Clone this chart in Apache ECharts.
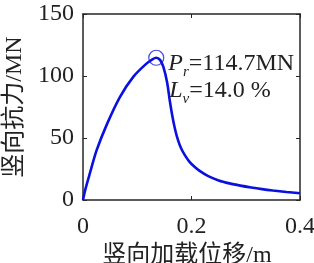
<!DOCTYPE html>
<html>
<head>
<meta charset="utf-8">
<script src="https://cdn.jsdelivr.net/npm/echarts@6/dist/echarts.min.js"></script>
<style>html,body{margin:0;padding:0;background:#fff}#c{width:314px;height:263px}</style>
</head>
<body>
<div id="c"></div>
<script>
const dispX = [0, 0.004, 0.013, 0.025, 0.044, 0.068, 0.093, 0.117, 0.128, 0.135, 0.142, 0.148, 0.155, 0.160, 0.165, 0.170, 0.175, 0.181, 0.188, 0.196, 0.205, 0.215, 0.230, 0.250, 0.270, 0.290, 0.310, 0.330, 0.350, 0.375, 0.400];
const forceY = [0, 8, 22, 40, 61, 83, 99.5, 110, 113.5, 114.7, 113, 107.5, 95, 80, 67, 56.5, 48.5, 41.5, 36, 31, 27, 23.5, 19.5, 15.8, 13.4, 11.6, 10.1, 8.8, 7.7, 6.5, 5.4];
const peak = [0.135, 114.7];
const xTicks = [0, 0.2, 0.4];
const yTicks = [0, 50, 100, 150];
const xName = '竖向加载位移/m';
const yName = '竖向抗力/MN';
const peakText = ['P', 'r', '=114.7MN'];
const lvText = ['L', 'v', '=14.0 %'];

const FONT = '"Liberation Serif", "Noto Sans CJK SC", serif';
const chart = echarts.init(document.getElementById('c'), null, {renderer: 'canvas'});
const axisCommon = {
  axisLine: {show: true, onZero: false, lineStyle: {color: '#262626', width: 1.5}},
  axisTick: {show: true, inside: true, length: 4, lineStyle: {color: '#262626', width: 1}},
  splitLine: {show: false}
};
const option = {
  backgroundColor: '#fff',
  animation: false,
  grid: {left: 83, top: 14, right: 14, bottom: 63, containLabel: false, outerBoundsMode: 'none'},
  xAxis: [
    Object.assign({
      type: 'value', min: 0, max: 0.4, interval: 0.2,
      name: xName, nameLocation: 'middle', nameGap: 44,
      nameTextStyle: {fontFamily: FONT, fontSize: 24, color: '#222', padding: [0, 9, 0, 0]},
      axisLabel: {fontFamily: FONT, fontSize: 24, color: '#222', margin: 15,
        formatter: v => String(xTicks.find(t => Math.abs(t - v) < 1e-9) ?? v)}
    }, axisCommon),
    Object.assign({type: 'value', min: 0, max: 0.4, interval: 0.2, position: 'top', axisLabel: {show: false}}, axisCommon)
  ],
  yAxis: [
    Object.assign({
      type: 'value', min: 0, max: 150, interval: 50,
      name: yName, nameLocation: 'middle', nameGap: 54, nameRotate: 90,
      nameTextStyle: {fontFamily: FONT, fontSize: 24, color: '#222'},
      axisLabel: {fontFamily: FONT, fontSize: 24, color: '#222', margin: 9}
    }, axisCommon),
    Object.assign({type: 'value', min: 0, max: 150, interval: 50, position: 'right', axisLabel: {show: false}}, axisCommon)
  ],
  series: [
    {
      type: 'line',
      data: dispX.map((x, i) => [x, forceY[i]]),
      showSymbol: false,
      smooth: 0.3,
      lineStyle: {color: '#0a10e0', width: 2.6},
      z: 3
    },
    {
      type: 'scatter',
      data: [peak],
      symbol: 'circle',
      symbolSize: 15,
      itemStyle: {color: 'rgba(0,0,0,0)', borderColor: '#1a1ae6', borderWidth: 1.2},
      z: 4
    }
  ]
};
chart.setOption(option);

const p = chart.convertToPixel({xAxisIndex: 0, yAxisIndex: 0}, peak);
const rich = {
  i: {fontFamily: FONT, fontSize: 24, fontStyle: 'italic', fill: '#222', verticalAlign: 'bottom'},
  s: {fontFamily: FONT, fontSize: 15, fontStyle: 'italic', fill: '#222', verticalAlign: 'bottom', padding: [0, 0, -4, 0]},
  n: {fontFamily: FONT, fontSize: 24, fill: '#222', verticalAlign: 'bottom'}
};
chart.setOption({
  graphic: [
    {
      type: 'text', left: p[0] + 12, top: p[1] - 6, z: 10,
      style: {text: '{i|' + peakText[0] + '}{s|' + peakText[1] + '}{n|' + peakText[2] + '}', rich: rich}
    },
    {
      type: 'text', left: p[0] + 13, top: p[1] + 21, z: 10,
      style: {text: '{i|' + lvText[0] + '}{s|' + lvText[1] + '}{n|' + lvText[2] + '}', rich: rich}
    }
  ]
});
</script>
</body>
</html>
